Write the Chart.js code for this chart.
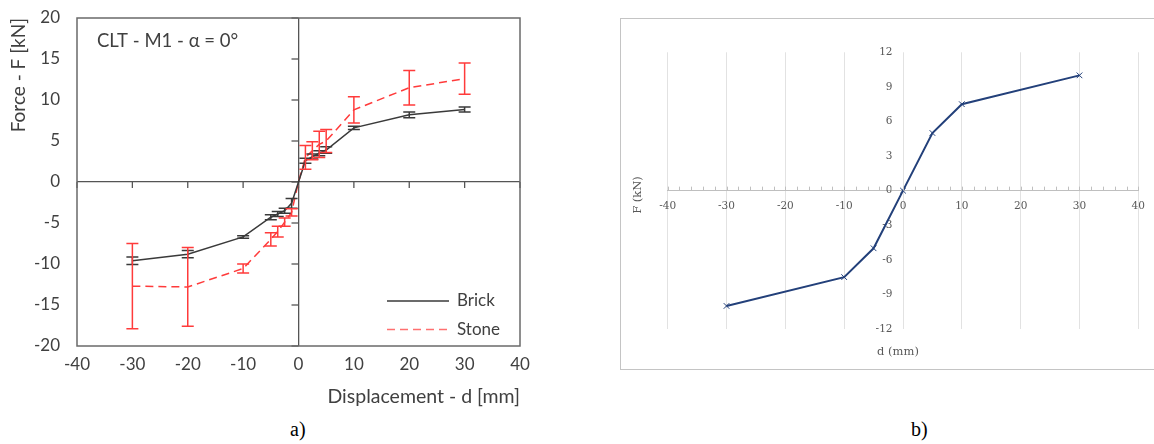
<!DOCTYPE html>
<html>
<head>
<meta charset="utf-8">
<script src="https://cdn.jsdelivr.net/npm/chart.js@4.4.0/dist/chart.umd.min.js"></script>
<style>
  body { margin: 0; width: 1154px; height: 444px; background: #fff; position: relative; overflow: hidden; }
  #boxA { position: absolute; left: 0; top: 0; }
  #boxB { position: absolute; left: 620px; top: 18px; width: 540px; height: 350px; border: 1px solid #c4c4c4; }
  .cap { position: absolute; top: 418px; font-family: "Liberation Serif", serif; font-size: 20px; color: #000; }
</style>
</head>
<body>
<div id="boxA"><canvas id="chartA" width="560" height="410"></canvas></div>
<div id="boxB"><canvas id="chartB" width="540" height="350"></canvas></div>
<div class="cap" style="left:290px">a)</div>
<div class="cap" style="left:911px">b)</div>
<script>
// --- a) CLT - M1, brick vs stone (mean + error) ---
const dispA = [-30, -20, -10, -5, -3.75, -2.5, -1.25, 0, 1.25, 2.5, 3.75, 5, 10, 20, 30];
const brickF = [-9.6, -8.8, -6.7, -4.3, -3.9, -3.5, -2.6, 0, 2.6, 3.1, 3.5, 3.9, 6.6, 8.2, 8.85];
const brickErr = [0.45, 0.45, 0.15, 0.3, 0.3, 0.3, 0.6, 0, 0.3, 0.3, 0.3, 0.4, 0.2, 0.35, 0.3];
const stoneF = [-12.7, -12.8, -10.55, -7.0, -6.05, -4.9, -3.7, 0, 3.0, 3.8, 4.6, 5.0, 8.8, 11.5, 12.6];
const stoneErr = [5.2, 4.8, 0.55, 0.8, 0.65, 0.5, 0.45, 0, 1.45, 1.1, 1.6, 1.4, 1.6, 2.1, 1.9];

// --- b) model curve ---
const dispB = [-30, -10, -5, 0, 5, 10, 30];
const forceB = [-10, -7.5, -5, 0, 5, 7.5, 10];

const fontA = 'Lato';
const greyA = '#404040';

function pts(xs, ys) {
    return xs.map(function (x, i) { return { x: x, y: ys[i] }; });
}

// рамка, оси через ноль, штрихи, "усы", легенда
const decoA = {
    id: 'decoA',
    beforeDatasetsDraw(chart) {
        const { ctx, chartArea: a, scales: { x, y } } = chart;
        const x0 = x.getPixelForValue(0);
        const y0 = y.getPixelForValue(0);
        ctx.save();
        ctx.strokeStyle = '#555';
        ctx.lineWidth = 1.3;
        x.ticks.forEach(function (t) {
            const px = x.getPixelForValue(t.value);
            ctx.beginPath(); ctx.moveTo(px, y0); ctx.lineTo(px, y0 + 6); ctx.stroke();
        });
        y.ticks.forEach(function (t) {
            const py = y.getPixelForValue(t.value);
            ctx.beginPath(); ctx.moveTo(x0 - 7, py); ctx.lineTo(x0, py); ctx.stroke();
        });
        ctx.strokeStyle = '#6a6a6a';
        ctx.lineWidth = 1.5;
        ctx.strokeRect(a.left, a.top, a.right - a.left, a.bottom - a.top);
        ctx.restore();
    },
    afterDatasetsDraw(chart) {
        const { ctx, chartArea: a, scales: { x, y } } = chart;
        ctx.save();
        chart.data.datasets.forEach(function (ds) {
            ctx.strokeStyle = ds.borderColor;
            ctx.lineWidth = 1.5;
            ctx.setLineDash([]);
            ds.data.forEach(function (p, i) {
                const e = ds.errors[i];
                if (!e) return;
                const px = x.getPixelForValue(p.x);
                const y1 = y.getPixelForValue(p.y + e);
                const y2 = y.getPixelForValue(p.y - e);
                ctx.beginPath();
                ctx.moveTo(px, y1); ctx.lineTo(px, y2);
                ctx.moveTo(px - 6, y1); ctx.lineTo(px + 6, y1);
                ctx.moveTo(px - 6, y2); ctx.lineTo(px + 6, y2);
                ctx.stroke();
            });
        });
        // легенда
        ctx.font = '17px ' + fontA;
        ctx.textBaseline = 'middle';
        ctx.textAlign = 'left';
        chart.data.datasets.forEach(function (ds, i) {
            const ly = a.bottom - 45 + i * 28.5;
            ctx.strokeStyle = ds.legendColor;
            ctx.lineWidth = 1.5;
            ctx.setLineDash(ds.borderDash || []);
            ctx.beginPath(); ctx.moveTo(a.left + 310, ly); ctx.lineTo(a.left + 372, ly); ctx.stroke();
            ctx.fillStyle = greyA;
            ctx.fillText(ds.label, a.left + 380, ly);
        });
        ctx.font = '18.5px ' + fontA;
        ctx.fillText('CLT - M1 - \u03b1 = 0\u00b0', a.left + 20, a.top + 23);
        ctx.restore();
    }
};

new Chart(document.getElementById('chartA'), {
    type: 'scatter',
    data: {
        datasets: [{
            label: 'Brick',
            data: pts(dispA, brickF),
            errors: brickErr,
            showLine: true,
            borderColor: '#3a3a3a',
            legendColor: '#3a3a3a',
            borderWidth: 1.5,
            pointRadius: 0
        }, {
            label: 'Stone',
            data: pts(dispA, stoneF),
            errors: stoneErr,
            showLine: true,
            borderColor: '#ff3b3b',
            legendColor: '#ff7070',
            borderDash: [8, 5],
            borderWidth: 1.5,
            pointRadius: 0
        }]
    },
    options: {
        responsive: false,
        animation: false,
        layout: { padding: { top: 18, right: 40, left: 0, bottom: 0 } },
        plugins: { legend: { display: false }, tooltip: { enabled: false } },
        scales: {
            x: {
                type: 'linear', min: -40, max: 40,
                ticks: { stepSize: 10, color: greyA, font: { family: fontA, size: 17 }, padding: 8 },
                grid: { color: function (c) { return c.tick && c.tick.value === 0 ? '#555' : 'rgba(0,0,0,0)'; }, lineWidth: 1.3, drawTicks: false },
                border: { display: false },
                title: { display: true, text: 'Displacement - d [mm]', align: 'end', color: greyA, font: { family: fontA, size: 19.5 }, padding: { top: 0, bottom: 2 } },
                afterFit: function (s) { s.height = 64; s.paddingLeft = 0; s.paddingRight = 0; }
            },
            y: {
                type: 'linear', min: -20, max: 20,
                ticks: { stepSize: 5, color: greyA, font: { family: fontA, size: 17 }, padding: 17 },
                grid: { color: function (c) { return c.tick && c.tick.value === 0 ? '#555' : 'rgba(0,0,0,0)'; }, lineWidth: 1.3, drawTicks: false },
                border: { display: false },
                title: { display: true, text: 'Force - F [kN]', align: 'end', color: greyA, font: { family: fontA, size: 19 }, padding: { top: 7, bottom: 0 } },
                afterFit: function (s) { s.width = 77; s.paddingTop = 0; s.paddingBottom = 0; }
            }
        }
    },
    plugins: [decoA]
});

// b) — мелкие штрихи на оси и подписи осей
const fontB = 'DejaVu Serif';
const greyB = '#595959';

const decoB = {
    id: 'decoB',
    afterDraw(chart) {
        const { ctx, scales: { x, y } } = chart;
        const y0 = y.getPixelForValue(0);
        ctx.save();
        ctx.strokeStyle = '#bfbfbf';
        ctx.lineWidth = 1;
        for (let v = x.min; v <= x.max; v += 2) {
            const px = Math.round(x.getPixelForValue(v)) + 0.5;
            ctx.beginPath(); ctx.moveTo(px, y0 - 4); ctx.lineTo(px, y0); ctx.stroke();
        }
        ctx.fillStyle = greyB;
        ctx.font = '11.5px "' + fontB + '"';
        ctx.textAlign = 'center';
        ctx.textBaseline = 'middle';
        ctx.fillText('d (mm)', 277, 333);
        ctx.translate(17, 176);
        ctx.rotate(-Math.PI / 2);
        ctx.fillText('F (kN)', 0, 0);
        ctx.restore();
    }
};

new Chart(document.getElementById('chartB'), {
    type: 'scatter',
    data: {
        datasets: [{
            data: pts(dispB, forceB),
            showLine: true,
            borderColor: '#23407a',
            backgroundColor: '#23407a',
            borderWidth: 2,
            pointStyle: 'crossRot',
            pointRadius: 4,
            pointBorderWidth: 1
        }]
    },
    options: {
        responsive: false,
        animation: false,
        layout: { padding: { left: 46.7, top: 33.3, right: 22.7, bottom: 40 } },
        plugins: { legend: { display: false }, tooltip: { enabled: false } },
        scales: {
            x: {
                type: 'linear', position: { y: 0 }, min: -40, max: 40,
                ticks: { stepSize: 10, autoSkip: false, color: greyB, font: { family: fontB, size: 10.5 }, padding: 9 },
                grid: { color: '#e2e2e2', drawTicks: false },
                border: { color: '#bfbfbf' }
            },
            y: {
                type: 'linear', position: { x: 0 }, min: -12, max: 12,
                // у оси в центре Chart.js не даёт отступа, поэтому добавим пробелы
                ticks: { stepSize: 3, autoSkip: false, color: greyB, font: { family: fontB, size: 10.5 },
                         callback: function (v) { return v + '\u2002\u2002'; } },
                grid: { display: false },
                border: { display: false }
            }
        }
    },
    plugins: [decoB]
});
</script>
</body>
</html>
